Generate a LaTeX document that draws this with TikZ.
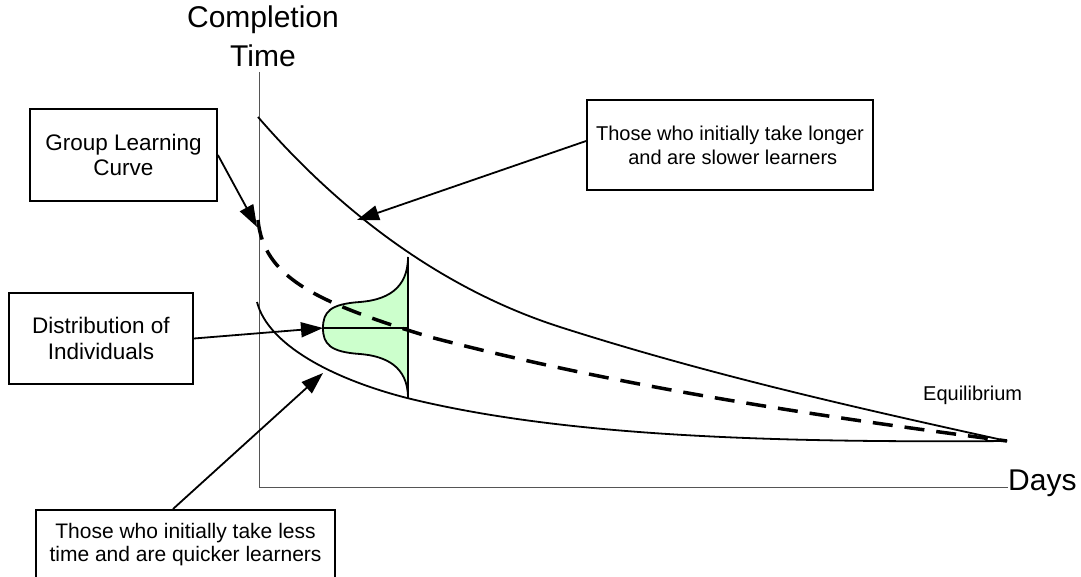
\documentclass[tikz,border=0pt]{standalone}
\usepackage{fontspec}
\setmainfont{Liberation Sans}
\usetikzlibrary{arrows.meta,calc}
\definecolor{bellgreen}{HTML}{CCFFCC}
\definecolor{axisgray}{HTML}{555555}
\tikzset{
  labelbox/.style={draw=black, line width=1.8pt, rectangle, align=center, inner sep=0pt},
  curveline/.style={line width=1.8pt, black},
  axisline/.style={line width=1pt, axisgray},
  pointer/.style={line width=1.8pt, -{Triangle[length=22pt,width=15pt]}},
  axislabel/.style={inner sep=0pt, align=center, font=\fontsize{30}{39}\selectfont},
  smalllabel/.style={inner sep=0pt, font=\fontsize{20}{24}\selectfont}
}
\begin{document}
\begin{tikzpicture}[x=1pt,y=-1pt]
\useasboundingbox (0,0) rectangle (1081,577);
\clip (0,0) rectangle (1081,577);

% axis labels
\node[axislabel, anchor=north] (ylab) at (263,6) {Completion\\Time};
\node[axislabel, anchor=base west] (days) at (1008,490) {Days};
\node[smalllabel, anchor=base west] (equil) at (923,400) {Equilibrium};

% axes
\coordinate (ytop) at (259,72);
\coordinate (origin) at (259,487);
\coordinate (xend) at (1008,487);
\draw[axisline] (ytop) -- (origin) -- (xend);

% bell (distribution)
\fill[bellgreen] (408,257) .. controls (408,290) and (385,300) .. (360,302)
  .. controls (330,304) and (323,312) .. (323,328)
  .. controls (323,344) and (330,352) .. (360,354)
  .. controls (385,356) and (408,366) .. (408,398) -- cycle;
\draw[curveline] (408,257) .. controls (408,290) and (385,300) .. (360,302)
  .. controls (330,304) and (323,312) .. (323,328)
  .. controls (323,344) and (330,352) .. (360,354)
  .. controls (385,356) and (408,366) .. (408,398);
\coordinate (btop) at (408,257);
\coordinate (bbot) at (408,398);
\coordinate (bmid) at (408,328);
\coordinate (dtip) at (323,328);
\draw[curveline] (btop) -- (bbot);
\draw[curveline] (dtip) -- (bmid);

% curves
\coordinate (eq) at (1007,441);
\draw[curveline] (258,117) .. controls (348,221) and (451,292) .. (560,327)
  .. controls (710,375) and (857,408) .. (eq);
\draw[curveline] (257,302) .. controls (268,345) and (333,379) .. (407,398)
  .. controls (557,435) and (757,443) .. (eq);
\draw[line width=3.5pt, dash pattern=on 20pt off 12pt] (258,220) .. controls (263.7,277) and (314.5,302) .. (430,337)
  .. controls (620,387) and (817,416) .. (eq);

% tips
\coordinate (gtip) at (257,227);
\coordinate (stip) at (357,220);
\coordinate (qtip) at (323,373);

% boxes
\node[labelbox, font=\fontsize{22.5}{25}\selectfont, minimum width=187pt, minimum height=92pt] (glc) at (123.5,155) {Group Learning\\Curve};
\node[labelbox, font=\fontsize{22.5}{26}\selectfont, minimum width=184pt, minimum height=91pt] (dist) at (101,338.5) {Distribution of\\Individuals};
\node[labelbox, font=\fontsize{20}{24}\selectfont, minimum width=286pt, minimum height=90pt] (slow) at (730,145) {Those who initially take longer\\ \ and are slower learners};
\node[labelbox, font=\fontsize{21}{23}\selectfont, anchor=north, minimum width=299pt, inner ysep=13pt] (quick) at (185.5,509) {Those who initially take less\\time and are quicker learners\rule[-25pt]{0pt}{25pt}};

% pointers
\draw[pointer] (glc.east) -- (gtip);
\draw[pointer] ($(slow.west)+(0,-4)$) -- (stip);
\draw[pointer] (dist.east) -- (dtip);
\draw[pointer] ($(quick.north)+(-12.5,0)$) -- (qtip);
\end{tikzpicture}
\end{document}
